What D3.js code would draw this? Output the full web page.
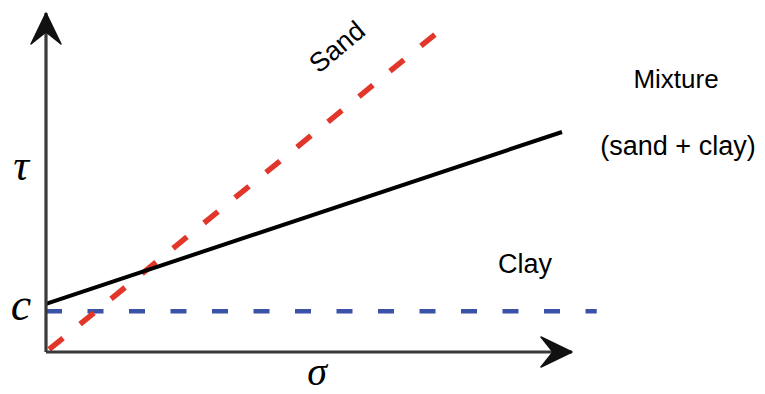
<!DOCTYPE html>
<html>
<head>
<meta charset="utf-8">
<script src="https://cdn.jsdelivr.net/npm/d3@7"></script>
<style>
  html, body { margin: 0; padding: 0; background: #fff; }
  svg { display: block; }
</style>
</head>
<body>
<script>
// Mohr–Coulomb failure envelopes: shear strength τ against normal stress σ
const sandLine = [[0, 0], [7.43, 9.41]];        // frictional, no cohesion
const mixtureLine = [[0, 1.42], [9.81, 6.49]];  // cohesion plus friction
const clayLine = [[0, 1.2], [10.47, 1.2]];      // cohesion only
const axisX = [[0, 0], [10, 0]];
const axisY = [[0, 0], [0, 10]];

const W = 765, H = 394;
const svg = d3.select("body").append("svg").attr("width", W).attr("height", H);

const x = d3.scaleLinear().domain([0, 10]).range([46, 572]);
const y = d3.scaleLinear().domain([0, 10]).range([352, 13]);
const line = d3.line().x(d => x(d[0])).y(d => y(d[1]));

// notched arrowhead for the axes
const defs = svg.append("defs");
defs.append("marker")
  .attr("id", "arrow")
  .attr("markerUnits", "userSpaceOnUse")
  .attr("viewBox", "-32 -17 34 34")
  .attr("refX", 0).attr("refY", 0)
  .attr("markerWidth", 34).attr("markerHeight", 34)
  .attr("orient", "auto")
  .append("path")
  .attr("d", "M0,0 L-31,-15 L-19,0 L-31,15 Z")
  .attr("fill", "#111")
  .attr("stroke", "#111")
  .attr("stroke-width", 1.5)
  .attr("stroke-linejoin", "round");

// envelopes
svg.append("path").datum(clayLine).attr("d", line)
  .attr("fill", "none").attr("stroke", "#3a52a8").attr("stroke-width", 4.5)
  .attr("stroke-dasharray", "16,25.5");

svg.append("path").datum(sandLine).attr("d", line)
  .attr("fill", "none").attr("stroke", "#e2362b").attr("stroke-width", 5.5)
  .attr("stroke-dasharray", "18,22").attr("stroke-dashoffset", 36);

svg.append("path").datum(mixtureLine).attr("d", line)
  .attr("fill", "none").attr("stroke", "#000").attr("stroke-width", 4);

// axes
svg.append("path").datum(axisX).attr("d", line)
  .attr("fill", "none").attr("stroke", "#3a3a3a").attr("stroke-width", 3.2)
  .attr("marker-end", "url(#arrow)");
svg.append("path").datum(axisY).attr("d", line)
  .attr("fill", "none").attr("stroke", "#3a3a3a").attr("stroke-width", 3.2)
  .attr("marker-end", "url(#arrow)");

// symbols
const serif = "'Liberation Serif', 'DejaVu Serif', serif";
svg.append("text").text("τ").attr("x", 21).attr("y", 180)
  .attr("text-anchor", "middle").attr("font-family", serif)
  .attr("font-style", "italic").attr("font-size", 44).attr("fill", "#000");
svg.append("text").text("c").attr("x", 21).attr("y", 320)
  .attr("text-anchor", "middle").attr("font-family", serif)
  .attr("font-style", "italic").attr("font-size", 46).attr("fill", "#000");
svg.append("text").text("σ").attr("x", 317).attr("y", 385)
  .attr("text-anchor", "middle").attr("font-family", serif)
  .attr("font-style", "italic").attr("font-size", 40).attr("fill", "#000");

// labels
const sans = "'Liberation Sans', Arial, sans-serif";
svg.append("text").text("Sand")
  .attr("transform", "translate(337,47) rotate(-40)")
  .attr("text-anchor", "middle").attr("dominant-baseline", "central")
  .attr("font-family", sans).attr("font-size", 27).attr("fill", "#000");
svg.append("text").text("Mixture").attr("x", 676).attr("y", 88)
  .attr("text-anchor", "middle").attr("font-family", sans).attr("font-size", 26).attr("fill", "#000");
svg.append("text").text("(sand + clay)").attr("x", 678).attr("y", 155)
  .attr("text-anchor", "middle").attr("font-family", sans).attr("font-size", 27).attr("fill", "#000");
svg.append("text").text("Clay").attr("x", 525).attr("y", 273)
  .attr("text-anchor", "middle").attr("font-family", sans).attr("font-size", 27).attr("fill", "#000");
</script>
</body>
</html>
